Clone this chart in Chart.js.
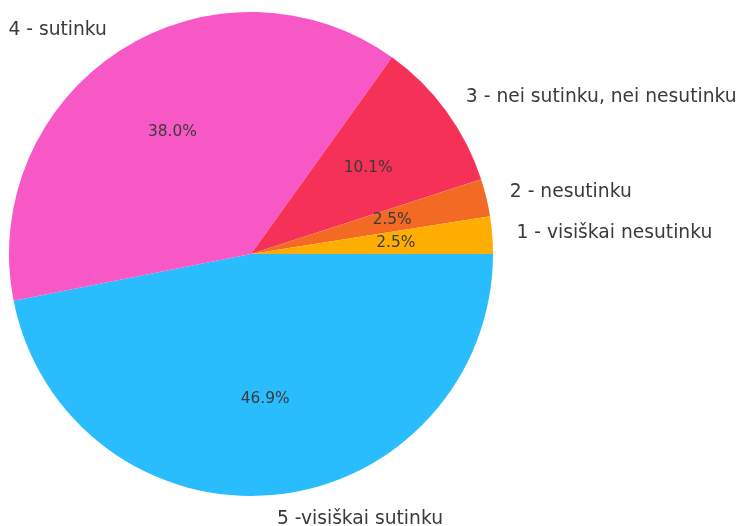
<!DOCTYPE html>
<html>
<head>
<meta charset="utf-8">
<script src="https://cdn.jsdelivr.net/npm/chart.js@4/dist/chart.umd.min.js"></script>
<style>
  html, body { margin: 0; padding: 0; background: #ffffff; }
  #wrap { width: 737px; height: 526px; position: relative; }
</style>
</head>
<body>
<div id="wrap"><canvas id="c" width="737" height="526"></canvas></div>
<script>
// Categories in original (counter-clockwise from 3 o'clock) order
const categories = [
  '1 - visiškai nesutinku',
  '2 - nesutinku',
  '3 - nei sutinku, nei nesutinku',
  '4 - sutinku',
  '5 -visiškai sutinku'
];
const percentages = [2.5, 2.5, 10.1, 38.0, 46.9];
const sliceColors = ['#FFAD00', '#F26A23', '#F63158', '#F858C6', '#29BDFD'];

// Chart.js draws clockwise, so reverse to reproduce the counter-clockwise layout
const chartLabels = categories.slice().reverse();
const chartValues = percentages.slice().reverse();
const chartColors = sliceColors.slice().reverse();

const TEXT_COLOR = '#3a3a3a';
const FONT = '"DejaVu Sans", sans-serif';

const pieLabels = {
  id: 'pieLabels',
  afterDatasetsDraw(chart) {
    const ctx = chart.ctx;
    const meta = chart.getDatasetMeta(0);
    ctx.save();
    meta.data.forEach((arc, i) => {
      const p = arc.getProps(['x', 'y', 'startAngle', 'endAngle', 'outerRadius'], true);
      const mid = (p.startAngle + p.endAngle) / 2;
      const c = Math.cos(mid), s = Math.sin(mid);
      // outer label
      ctx.fillStyle = TEXT_COLOR;
      ctx.font = '18.7px ' + FONT;
      ctx.textBaseline = 'middle';
      ctx.textAlign = c >= 0 ? 'left' : 'right';
      ctx.fillText(chartLabels[i], p.x + c * p.outerRadius * 1.1, p.y + s * p.outerRadius * 1.1);
      // percentage
      ctx.font = '15.4px ' + FONT;
      ctx.textAlign = 'center';
      ctx.fillText(chartValues[i].toFixed(1) + '%', p.x + c * p.outerRadius * 0.6, p.y + s * p.outerRadius * 0.6);
    });
    ctx.restore();
  }
};

new Chart(document.getElementById('c'), {
  type: 'pie',
  data: {
    labels: chartLabels,
    datasets: [{
      data: chartValues,
      backgroundColor: chartColors,
      borderWidth: 0,
      hoverOffset: 0
    }]
  },
  options: {
    responsive: false,
    animation: false,
    rotation: 90,
    layout: { padding: { left: 9, top: 12, right: 244, bottom: 30 } },
    plugins: {
      legend: { display: false },
      tooltip: { enabled: false }
    }
  },
  plugins: [pieLabels]
});
</script>
</body>
</html>
